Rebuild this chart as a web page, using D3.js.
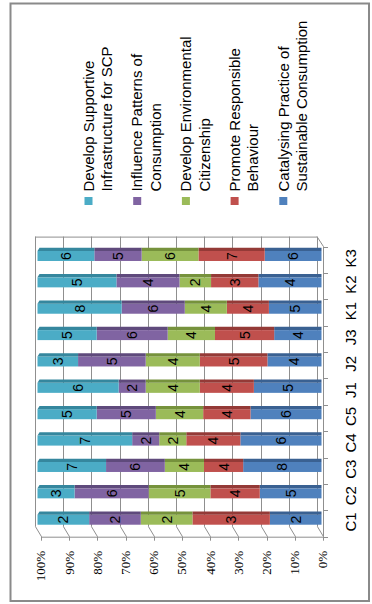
<!DOCTYPE html>
<html>
<head>
<meta charset="utf-8">
<script src="https://cdn.jsdelivr.net/npm/d3@7"></script>
<style>
  html, body { margin: 0; padding: 0; background: #fff; }
  svg { display: block; }
</style>
</head>
<body>
<svg id="chart" width="372" height="604"></svg>
<script>
// Categories (groups) of the 100% stacked bars
const categories = ["C1", "C2", "C3", "C4", "C5", "J1", "J2", "J3", "K1", "K2", "K3"];

// Series values per category, stacked from 0% outward
const catalysing    = [2, 5, 8, 6, 6, 5, 4, 4, 5, 4, 6];
const promote       = [3, 4, 4, 4, 4, 4, 5, 5, 4, 3, 7];
const environmental = [2, 5, 4, 2, 4, 4, 4, 4, 4, 2, 6];
const influence     = [2, 6, 6, 2, 5, 2, 5, 6, 6, 4, 5];
const supportive    = [2, 3, 7, 7, 5, 6, 3, 5, 8, 5, 6];

const seriesKeys = ["catalysing", "promote", "environmental", "influence", "supportive"];
const seriesLabels = {
  catalysing:    ["Catalysing Practice of", "Sustainable Consumption"],
  promote:       ["Promote Responsible", "Behaviour"],
  environmental: ["Develop Environmental", "Citizenship"],
  influence:     ["Influence Patterns of", "Consumption"],
  supportive:    ["Develop Supportive", "Infrastructure for SCP"]
};
const legendOrder = ["supportive", "influence", "environmental", "promote", "catalysing"];

const tickValues = [0, 0.1, 0.2, 0.3, 0.4, 0.5, 0.6, 0.7, 0.8, 0.9, 1];
const tickLabels = ["0%", "10%", "20%", "30%", "40%", "50%", "60%", "70%", "80%", "90%", "100%"];

const faceColor = {
  supportive: "#4bacc6", influence: "#8064a2", environmental: "#9bbb59",
  promote: "#c0504d", catalysing: "#4f81bd"
};
const sideColor = {
  supportive: "#35879e", influence: "#5f4a7c", environmental: "#76923c",
  promote: "#943a37", catalysing: "#3a6192"
};

const rows = categories.map((c, i) => ({
  category: c,
  catalysing: catalysing[i], promote: promote[i], environmental: environmental[i],
  influence: influence[i], supportive: supportive[i]
}));

const stacked = d3.stack().keys(seriesKeys).offset(d3.stackOffsetExpand)(rows);

const svg = d3.select("#chart");
const sans = "'Liberation Sans', Arial, sans-serif";
const serif = "'Liberation Serif', 'Times New Roman', serif";

// outer frame
svg.append("rect")
  .attr("x", 10.5).attr("y", 3.5).attr("width", 358.5).attr("height", 597.5)
  .attr("fill", "none").attr("stroke", "#8a8a8a").attr("stroke-width", 2);

// scales: value runs right-to-left, categories bottom-to-top
const pFront = d3.scaleLinear().domain([0, 1]).range([323, 41]);
const pBack  = d3.scaleLinear().domain([0, 1]).range([317, 35]);
const pBar   = d3.scaleLinear().domain([0, 1]).range([321.5, 37.5]);
const yCat   = d3.scaleBand().domain(categories).range([536.7, 246.6]);
const bw = yCat.bandwidth();
const depthY = 10;                 // back wall offset (up)
const wallTop = yCat.range()[1] - depthY;
const wallBottom = yCat.range()[0] - depthY;

const grid = svg.append("g").attr("stroke", "#8f8f8f").attr("stroke-width", 1).attr("fill", "none");

// back wall gridlines with side-wall diagonals and axis ticks
tickValues.forEach(p => {
  const xb = Math.round(pBack(p)) + 0.5, xf = Math.round(pFront(p)) + 0.5;
  grid.append("line").attr("x1", xb).attr("x2", xb).attr("y1", wallTop).attr("y2", wallBottom);
  grid.append("line").attr("x1", xb).attr("x2", xf).attr("y1", wallBottom).attr("y2", yCat.range()[0]);
  grid.append("line").attr("x1", xf).attr("x2", xf).attr("y1", yCat.range()[0]).attr("y2", yCat.range()[0] + 4);
});
// back wall top edge
grid.append("line")
  .attr("x1", pBack(1)).attr("x2", pBack(0)).attr("y1", wallTop + 0.5).attr("y2", wallTop + 0.5);
// floor corner and category axis
grid.append("line")
  .attr("x1", pBack(0)).attr("y1", wallTop).attr("x2", pFront(0) + 0.5).attr("y2", yCat.range()[1]);
grid.append("line")
  .attr("x1", pFront(0) + 0.5).attr("x2", pFront(0) + 0.5)
  .attr("y1", yCat.range()[1]).attr("y2", yCat.range()[0]);
// value axis front edge
grid.append("line")
  .attr("x1", pFront(1)).attr("x2", pFront(0)).attr("y1", yCat.range()[0] + 0.5).attr("y2", yCat.range()[0] + 0.5);
// category ticks
d3.range(categories.length + 1).forEach(i => {
  const y = Math.round(yCat.range()[0] - i * yCat.step()) + 0.5;
  grid.append("line").attr("x1", pFront(0) + 0.5).attr("x2", pFront(0) + 5).attr("y1", y).attr("y2", y);
});

// bars
const faceHalf = 5, sideH = 3.3;
const barCenter = c => yCat(c) + bw / 2 - 3.8;

const layers = svg.append("g").selectAll("g").data(stacked).join("g");
layers.each(function (layer) {
  const g = d3.select(this);
  const key = layer.key;
  layer.forEach(d => {
    const c = d.data.category;
    const xL = pBar(d[1]), xR = pBar(d[0]);
    const yc = barCenter(c);
    // front face
    g.append("rect")
      .attr("x", xL).attr("y", yc - faceHalf).attr("width", xR - xL).attr("height", faceHalf * 2)
      .attr("fill", faceColor[key]);
    // upper side face
    const top = yc - faceHalf;
    const slant = key === "supportive" ? 2 : 0;
    g.append("polygon")
      .attr("points", [[xL, top], [xR, top], [xR, top - sideH], [xL + slant, top - sideH]].join(" "))
      .attr("fill", sideColor[key]);
    // value label
    g.append("text")
      .attr("transform", `translate(${(xL + xR) / 2},${yc}) rotate(-90)`)
      .attr("text-anchor", "middle").attr("dy", "0.36em")
      .attr("font-family", sans).attr("font-size", 14).attr("fill", "#000")
      .text(d.data[key]);
  });
});

// value tick labels
svg.append("g").selectAll("text").data(tickValues).join("text")
  .attr("transform", (p) => `translate(${pFront(p)},551) rotate(-90)`)
  .attr("text-anchor", "end").attr("dy", "0.34em")
  .attr("font-family", serif).attr("font-size", 13).attr("fill", "#000")
  .text((p, i) => tickLabels[i]);

// category labels
svg.append("g").selectAll("text").data(categories).join("text")
  .attr("transform", c => `translate(350.5,${yCat(c) + bw / 2 - 1.5}) rotate(-90)`)
  .attr("text-anchor", "middle").attr("dy", "0.35em")
  .attr("font-family", sans).attr("font-size", 15).attr("fill", "#000")
  .text(c => c);

// legend
const legend = svg.append("g");
legendOrder.forEach((key, i) => {
  const x0 = 88.5 + i * 48.7;
  legend.append("rect")
    .attr("x", x0 - 4).attr("y", 197).attr("width", 8).attr("height", 8)
    .attr("fill", faceColor[key]);
  seriesLabels[key].forEach((line, j) => {
    legend.append("text")
      .attr("transform", `translate(${x0 + j * 18.5},191.5) rotate(-90)`)
      .attr("text-anchor", "start").attr("dy", "0.35em")
      .attr("font-family", sans).attr("font-size", 15).attr("fill", "#000")
      .text(line);
  });
});
</script>
</body>
</html>
